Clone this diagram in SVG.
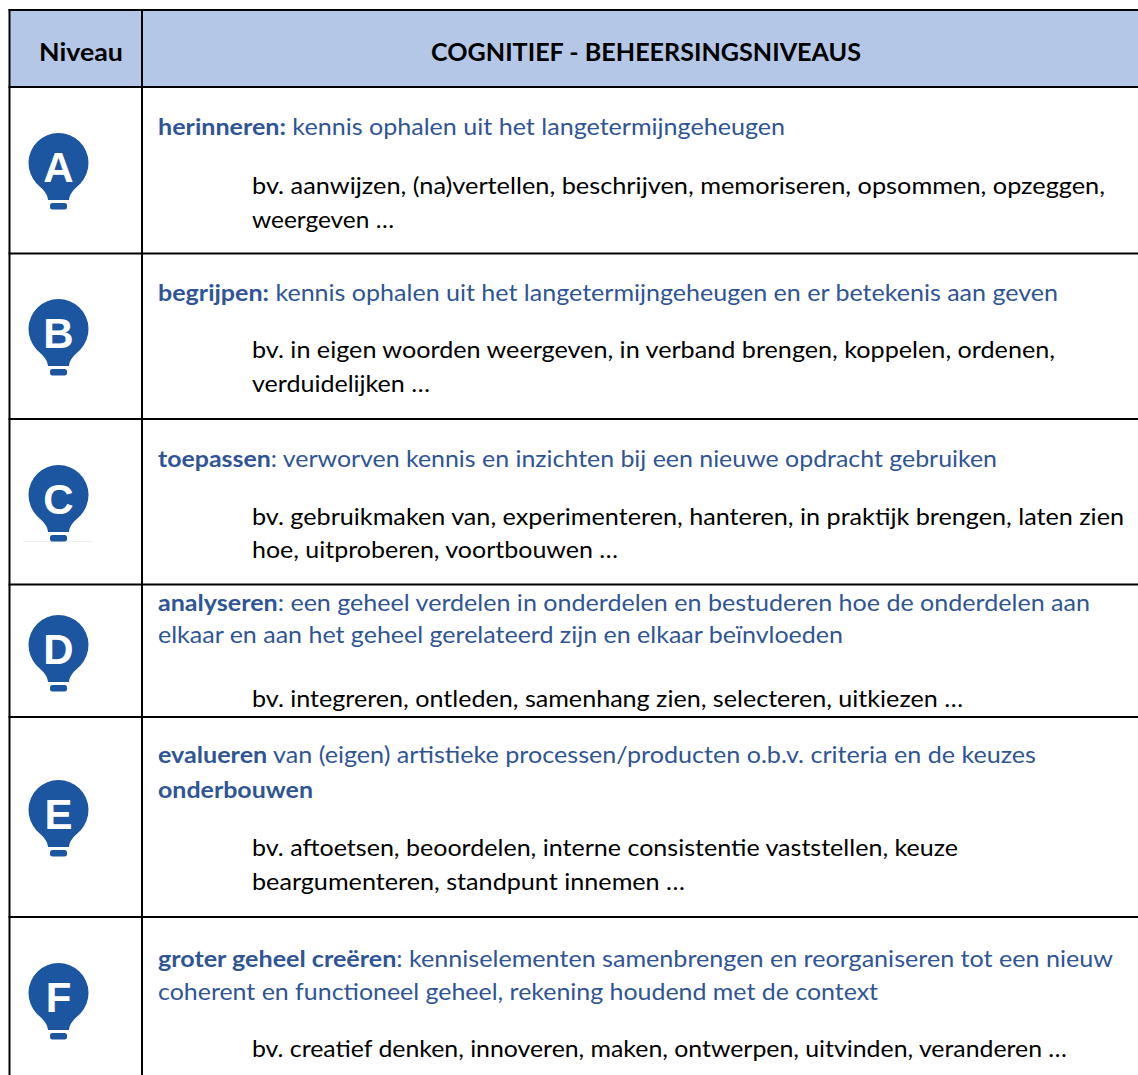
<svg xmlns="http://www.w3.org/2000/svg" width="1138" height="1075" viewBox="0 0 1138 1075">
<style>
.t{font-family:Lato,"Liberation Sans",sans-serif;font-size:23px;}
.h{font-family:Lato,"Liberation Sans",sans-serif;font-size:25px;font-weight:bold;fill:#000;}
.blue{fill:#2F5597;}
.blk{fill:#000;}
.b{font-weight:bold;}
.ltr{font-family:"Liberation Sans",Arial,sans-serif;font-size:42px;font-weight:bold;fill:#fff;text-anchor:middle;}
.grid line{stroke:#000;stroke-width:2;}
</style>
<defs>
<g id="bulb" fill="#1C55A0">
<path d="M -22 20.4 A 30 30 0 1 1 22 20.4 C 16 26 11 30 10.5 37 L -10.5 37 C -11 30 -16 26 -22 20.4 Z"/>
<rect x="-8.5" y="40" width="17" height="6.5" rx="2.5"/>
</g>
</defs>
<rect x="0" y="0" width="1138" height="1075" fill="#fff"/>
<g id="header">
<rect x="9.5" y="10" width="1128.5" height="77" fill="#B4C7E7"/>
<text class="h" x="39" y="61" textLength="84" lengthAdjust="spacingAndGlyphs">Niveau</text>
<text class="h" x="431" y="61" textLength="430" lengthAdjust="spacingAndGlyphs">COGNITIEF - BEHEERSINGSNIVEAUS</text>
</g>
<g id="row-A">
<use href="#bulb" x="58.5" y="163"/>
<text class="ltr" x="58.5" y="182">A</text>
<text class="t blue" x="158" y="135" textLength="627" lengthAdjust="spacingAndGlyphs"><tspan class="b">herinneren:</tspan> kennis ophalen uit het langetermijngeheugen</text>
<text class="t blk" x="252" y="194" textLength="853" lengthAdjust="spacingAndGlyphs">bv. aanwijzen, (na)vertellen, beschrijven, memoriseren, opsommen, opzeggen,</text>
<text class="t blk" x="252" y="228" textLength="142" lengthAdjust="spacingAndGlyphs">weergeven …</text>
</g>
<g id="row-B">
<use href="#bulb" x="58.5" y="329"/>
<text class="ltr" x="58.5" y="348">B</text>
<text class="t blue" x="158" y="301" textLength="900" lengthAdjust="spacingAndGlyphs"><tspan class="b">begrijpen:</tspan> kennis ophalen uit het langetermijngeheugen en er betekenis aan geven</text>
<text class="t blk" x="252" y="358" textLength="803" lengthAdjust="spacingAndGlyphs">bv. in eigen woorden weergeven, in verband brengen, koppelen, ordenen,</text>
<text class="t blk" x="252" y="392" textLength="178" lengthAdjust="spacingAndGlyphs">verduidelijken …</text>
</g>
<g id="row-C">
<line x1="23" y1="541.5" x2="92" y2="541.5" stroke="#ededed" stroke-width="1"/>
<use href="#bulb" x="58.5" y="495"/>
<text class="ltr" x="58.5" y="514">C</text>
<text class="t blue" x="158" y="467" textLength="839" lengthAdjust="spacingAndGlyphs"><tspan class="b">toepassen</tspan>: verworven kennis en inzichten bij een nieuwe opdracht gebruiken</text>
<text class="t blk" x="252" y="525" textLength="872" lengthAdjust="spacingAndGlyphs">bv. gebruikmaken van, experimenteren, hanteren, in praktijk brengen, laten zien</text>
<text class="t blk" x="252" y="558" textLength="366" lengthAdjust="spacingAndGlyphs">hoe, uitproberen, voortbouwen …</text>
</g>
<g id="row-D">
<use href="#bulb" x="58.5" y="645"/>
<text class="ltr" x="58.5" y="664">D</text>
<text class="t blue" x="158" y="611" textLength="932" lengthAdjust="spacingAndGlyphs"><tspan class="b">analyseren</tspan>: een geheel verdelen in onderdelen en bestuderen hoe de onderdelen aan</text>
<text class="t blue" x="158" y="643" textLength="685" lengthAdjust="spacingAndGlyphs">elkaar en aan het geheel gerelateerd zijn en elkaar beïnvloeden</text>
<text class="t blk" x="252" y="707" textLength="711" lengthAdjust="spacingAndGlyphs">bv. integreren, ontleden, samenhang zien, selecteren, uitkiezen …</text>
</g>
<g id="row-E">
<use href="#bulb" x="58.5" y="810"/>
<text class="ltr" x="58.5" y="829">E</text>
<text class="t blue" x="158" y="763" textLength="878" lengthAdjust="spacingAndGlyphs"><tspan class="b">evalueren</tspan> van (eigen) artistieke processen/producten o.b.v. criteria en de keuzes</text>
<text class="t blue b" x="158" y="798" textLength="155" lengthAdjust="spacingAndGlyphs">onderbouwen</text>
<text class="t blk" x="252" y="856" textLength="706" lengthAdjust="spacingAndGlyphs">bv. aftoetsen, beoordelen, interne consistentie vaststellen, keuze</text>
<text class="t blk" x="252" y="890" textLength="433" lengthAdjust="spacingAndGlyphs">beargumenteren, standpunt innemen …</text>
</g>
<g id="row-F">
<use href="#bulb" x="58.5" y="993"/>
<text class="ltr" x="58.5" y="1012">F</text>
<text class="t blue" x="158" y="967" textLength="955" lengthAdjust="spacingAndGlyphs"><tspan class="b">groter geheel creëren</tspan>: kenniselementen samenbrengen en reorganiseren tot een nieuw</text>
<text class="t blue" x="158" y="1000" textLength="720" lengthAdjust="spacingAndGlyphs">coherent en functioneel geheel, rekening houdend met de context</text>
<text class="t blk" x="252" y="1057" textLength="815" lengthAdjust="spacingAndGlyphs">bv. creatief denken, innoveren, maken, ontwerpen, uitvinden, veranderen …</text>
</g>
<g id="connectors" class="grid">
<line x1="8.5" y1="10" x2="1138" y2="10"/>
<line x1="8.5" y1="87" x2="1138" y2="87"/>
<line x1="8.5" y1="253.5" x2="1138" y2="253.5"/>
<line x1="8.5" y1="419" x2="1138" y2="419"/>
<line x1="8.5" y1="584.5" x2="1138" y2="584.5"/>
<line x1="8.5" y1="717" x2="1138" y2="717"/>
<line x1="8.5" y1="917" x2="1138" y2="917"/>
<line x1="9.5" y1="9" x2="9.5" y2="1075"/>
<line x1="142" y1="9" x2="142" y2="1075"/>
</g>
</svg>
